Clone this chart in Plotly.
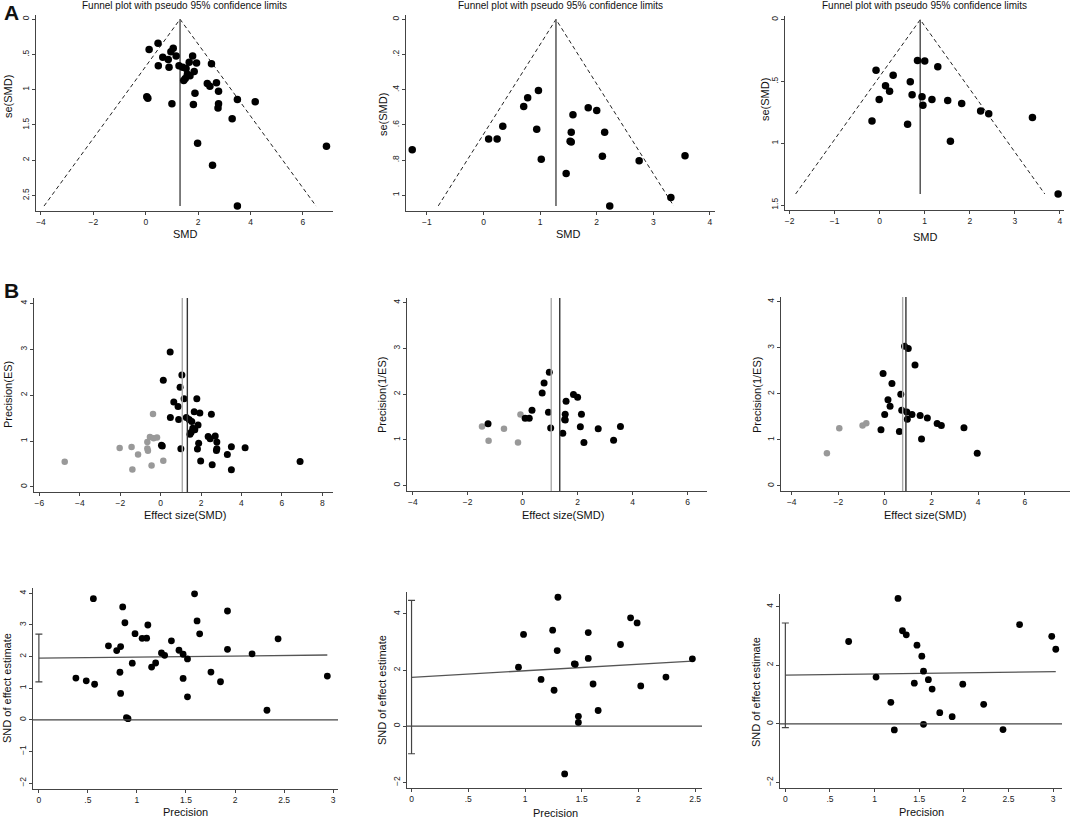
import numpy as np
import plotly.graph_objects as go

# ---- study estimates (row A) ----
smd_1 = [0.47, 0.13, 1.05, 0.96, 1.16, 0.65, 0.86, 1.79, 1.66, 1.94, 2.51, 0.48, 0.89,
         1.27, 1.41, 1.54, 1.85, 1.59, 1.69, 1.51, 1.45, 2.35, 2.45, 2.70, 2.78, 1.88,
         0.04, 0.08, 1.00, 1.82, 2.78, 2.76, 3.50, 4.18, 3.30, 1.98, 6.90, 2.55, 3.50]
se_1 = [0.34, 0.43, 0.41, 0.46, 0.52, 0.54, 0.57, 0.52, 0.61, 0.62, 0.63, 0.66, 0.68,
        0.66, 0.68, 0.70, 0.74, 0.78, 0.80, 0.84, 0.87, 0.91, 0.95, 0.90, 1.02, 1.05,
        1.10, 1.12, 1.20, 1.21, 1.20, 1.26, 1.14, 1.17, 1.41, 1.76, 1.80, 2.07, 2.65]

smd_2 = [-1.26, 0.09, 0.24, 0.34, 0.71, 0.78, 0.97, 0.94, 1.02, 1.46, 1.53, 1.55, 1.55,
         1.58, 1.85, 2.00, 2.14, 2.10, 2.75, 3.56, 3.31, 2.23]
se_2 = [0.741, 0.68, 0.68, 0.608, 0.495, 0.446, 0.404, 0.625, 0.796, 0.876, 0.693, 0.697,
        0.642, 0.543, 0.503, 0.518, 0.642, 0.779, 0.804, 0.775, 1.013, 1.061]

smd_3 = [-0.08, 0.30, 0.13, 0.22, -0.01, -0.17, 0.68, 0.72, 0.62, 0.84, 1.00, 1.29, 0.94,
         0.96, 1.16, 1.51, 1.82, 2.24, 2.42, 3.39, 1.57, 3.96]
se_3 = [0.41, 0.45, 0.535, 0.578, 0.646, 0.819, 0.503, 0.608, 0.846, 0.33, 0.335, 0.381,
        0.624, 0.692, 0.646, 0.654, 0.678, 0.738, 0.762, 0.792, 0.984, 1.41]

# pooled estimate at the funnel apex
funnel_centre = [1.31, 1.28, 0.90]

# ---- trim and fill (row B): imputed studies shown in grey ----
fill_smd_1 = [-0.38, -0.53, -0.35, -0.18, -0.66, -0.66, -0.63, -2.03, -1.44, -1.12,
              -0.45, 0.13, -1.40, -4.75]
fill_prec_1 = [1.59, 1.09, 1.06, 1.08, 0.98, 0.84, 0.79, 0.85, 0.87, 0.71, 0.47, 0.57,
               0.38, 0.55]
fill_smd_2 = [-1.48, -1.24, -0.68, -0.17, -0.08]
fill_prec_2 = [1.29, 0.98, 1.24, 0.94, 1.55]
fill_smd_3 = [-2.49, -1.96, -0.96, -0.80]
fill_prec_3 = [0.71, 1.25, 1.31, 1.36]

fill_observed = [1.32, 1.35, 0.90]
fill_adjusted = [1.07, 1.04, 0.76]

# ---- Egger / Galbraith (row C) ----
egger_intercept = [1.95, 1.74, 1.66]
egger_slope = [0.034, 0.235, 0.040]
egger_ci_low = [1.20, -0.98, -0.13]
egger_ci_high = [2.71, 4.48, 3.44]

# tick labels (Stata style, no leading zero)
se_ticks = [[0, 0.5, 1, 1.5, 2, 2.5], [0, 0.2, 0.4, 0.6, 0.8, 1], [0, 0.5, 1, 1.5]]
se_ticktext = [["0", ".5", "1", "1.5", "2", "2.5"], ["0", ".2", ".4", ".6", ".8", "1"],
               ["0", ".5", "1", "1.5"]]
smd_ticks = [[-4, -2, 0, 2, 4, 6], [-1, 0, 1, 2, 3, 4], [-2, -1, 0, 1, 2, 3, 4]]
es_ticks = [[-6, -4, -2, 0, 2, 4, 6, 8], [-4, -2, 0, 2, 4, 6], [-4, -2, 0, 2, 4, 6]]
prec_ticks = [[0, 0.5, 1, 1.5, 2, 2.5, 3], [0, 0.5, 1, 1.5, 2, 2.5], [0, 0.5, 1, 1.5, 2, 2.5, 3]]
prec_ticktext = [["0", ".5", "1", "1.5", "2", "2.5", "3"], ["0", ".5", "1", "1.5", "2", "2.5"],
                 ["0", ".5", "1", "1.5", "2", "2.5", "3"]]
snd_ticks = [[-2, -1, 0, 1, 2, 3, 4], [-2, 0, 2, 4], [-2, 0, 2, 4]]

studies = [(smd_1, se_1), (smd_2, se_2), (smd_3, se_3)]
fills = [(fill_smd_1, fill_prec_1), (fill_smd_2, fill_prec_2), (fill_smd_3, fill_prec_3)]

# ---- layout geometry (pixels in the 1072x819 page) ----
W, H = 1072, 819
px_x = [[36, 333], [406, 715], [785, 1064],
        [34, 333], [407, 707], [781, 1070],
        [33, 338], [407, 702], [780, 1062]]
px_y = [[15, 211], [15, 211], [16, 210],
        [298, 492], [298, 491], [297, 491],
        [588, 789], [592, 788], [594, 788]]
x_ranges = [[-4.19, 7.15], [-1.37, 4.09], [-2.10, 4.09],
            [-6.27, 8.53], [-4.21, 6.71], [-4.46, 7.94],
            [-0.06, 3.05], [-0.04, 2.56], [-0.06, 3.10]]
y_ranges = [[2.72, -0.06], [1.09, -0.025], [1.54, -0.03],
            [-0.11, 4.12], [-0.12, 4.10], [-0.11, 4.10],
            [-2.19, 4.17], [-2.20, 4.78], [-2.19, 4.43]]

FONT = "Liberation Sans, Arial, sans-serif"
AXIS_COL = "#444444"


def ax(n):
    return "" if n == 1 else str(n)


fig = go.Figure()

for c in range(3):
    smd = np.array(studies[c][0])
    se = np.array(studies[c][1])
    prec = 1 / se
    snd = smd / se
    centre = funnel_centre[c]
    se_max = se.max()

    # --- row A: funnel plot ---
    n = c + 1
    fig.add_trace(go.Scatter(
        x=[centre - 1.96 * se_max, centre, centre + 1.96 * se_max],
        y=[se_max, 0, se_max], mode="lines",
        line=dict(color="#222222", width=1, dash="4px,3px"),
        xaxis="x" + ax(n), yaxis="y" + ax(n), hoverinfo="skip"))
    fig.add_trace(go.Scatter(
        x=[centre, centre], y=[0, se_max], mode="lines",
        line=dict(color="#555555", width=1.5),
        xaxis="x" + ax(n), yaxis="y" + ax(n), hoverinfo="skip"))
    fig.add_trace(go.Scatter(
        x=smd, y=se, mode="markers",
        marker=dict(color="black", size=7.5),
        xaxis="x" + ax(n), yaxis="y" + ax(n)))

    # --- row B: trim and fill ---
    n = c + 4
    for xv, col in [(fill_adjusted[c], "#aaaaaa"), (fill_observed[c], "#333333")]:
        fig.add_shape(type="line", x0=xv, x1=xv, y0=0, y1=1,
                      xref="x" + ax(n), yref="y" + ax(n) + " domain",
                      line=dict(color=col, width=1.4))
    fig.add_trace(go.Scatter(
        x=fills[c][0], y=fills[c][1], mode="markers",
        marker=dict(color="#999999", size=6.5),
        xaxis="x" + ax(n), yaxis="y" + ax(n)))
    fig.add_trace(go.Scatter(
        x=smd, y=prec, mode="markers",
        marker=dict(color="black", size=7),
        xaxis="x" + ax(n), yaxis="y" + ax(n)))

    # --- row C: Galbraith / Egger ---
    n = c + 7
    fig.add_shape(type="line", x0=0, x1=1, y0=0, y1=0,
                  xref="x" + ax(n) + " domain", yref="y" + ax(n),
                  line=dict(color="#444444", width=1.3))
    reg_x = np.array([0, prec.max()])
    fig.add_trace(go.Scatter(
        x=reg_x, y=egger_intercept[c] + egger_slope[c] * reg_x, mode="lines",
        line=dict(color="#555555", width=1.3),
        xaxis="x" + ax(n), yaxis="y" + ax(n), hoverinfo="skip"))
    fig.add_trace(go.Scatter(
        x=[0], y=[egger_intercept[c]], mode="markers",
        marker=dict(size=1, color="rgba(0,0,0,0)"),
        error_y=dict(type="data", symmetric=False,
                     array=[egger_ci_high[c] - egger_intercept[c]],
                     arrayminus=[egger_intercept[c] - egger_ci_low[c]],
                     color="#444444", thickness=1.2, width=3.5),
        xaxis="x" + ax(n), yaxis="y" + ax(n), hoverinfo="skip"))
    fig.add_trace(go.Scatter(
        x=prec, y=snd, mode="markers",
        marker=dict(color="black", size=6.8),
        xaxis="x" + ax(n), yaxis="y" + ax(n)))

# ---- axes ----
layout_axes = {}
for i in range(9):
    n = i + 1
    row, col = divmod(i, 3)
    common = dict(showline=True, linecolor=AXIS_COL, linewidth=1, ticks="outside",
                  ticklen=3, tickcolor=AXIS_COL, showgrid=False, zeroline=False,
                  tickfont=dict(family=FONT, size=8.5, color="#222222"))
    xa = dict(common, domain=[px_x[i][0] / W, px_x[i][1] / W], range=x_ranges[i],
              anchor="y" + ax(n))
    ya = dict(common, domain=[1 - px_y[i][1] / H, 1 - px_y[i][0] / H], range=y_ranges[i],
              anchor="x" + ax(n), tickangle=-90)
    if row == 0:
        xa["tickvals"] = smd_ticks[col]
        ya["tickvals"] = se_ticks[col]
        ya["ticktext"] = se_ticktext[col]
    elif row == 1:
        xa["tickvals"] = es_ticks[col]
        ya["tickvals"] = [0, 1, 2, 3, 4]
    else:
        xa["tickvals"] = prec_ticks[col]
        xa["ticktext"] = prec_ticktext[col]
        ya["tickvals"] = snd_ticks[col]
    layout_axes["xaxis" + ax(n)] = xa
    layout_axes["yaxis" + ax(n)] = ya

# ---- text: titles, axis titles and panel letters ----
annotations = []


def label(text, x, y, size=11, angle=0, bold=False):
    annotations.append(dict(
        text="<b>" + text + "</b>" if bold else text, x=x / W, y=1 - y / H,
        xref="paper", yref="paper", showarrow=False, textangle=angle,
        font=dict(family=FONT, size=size, color="#111111"),
        xanchor="center", yanchor="middle"))


for i in range(3):
    label("Funnel plot with pseudo 95% confidence limits",
          (px_x[i][0] + px_x[i][1]) / 2, 6, size=10)

x_titles = [("SMD", 185, 234), ("SMD", 568, 234), ("SMD", 925, 237),
            ("Effect size(SMD)", 185, 515), ("Effect size(SMD)", 563, 515),
            ("Effect size(SMD)", 925, 515),
            ("Precision", 185, 812), ("Precision", 555, 813), ("Precision", 921, 812)]
y_titles = [("se(SMD)", 8, 97), ("se(SMD)", 383, 115), ("se(SMD)", 765, 100),
            ("Precision(ES)", 8, 395), ("Precision(1/ES)", 382, 395),
            ("Precision(1/ES)", 757, 395),
            ("SND of effect estimate", 7, 688), ("SND of effect estimate", 382, 690),
            ("SND of effect estimate", 756, 692)]
for t, x, y in x_titles:
    label(t, x, y, size=11)
for t, x, y in y_titles:
    label(t, x, y, size=11, angle=-90)

label("A", 11, 13, size=21, bold=True)
label("B", 11, 290, size=21, bold=True)

fig.update_layout(
    width=W, height=H,
    margin=dict(l=0, r=0, t=0, b=0),
    paper_bgcolor="white", plot_bgcolor="white",
    showlegend=False,
    annotations=annotations,
    font=dict(family=FONT),
    **layout_axes)

# page body margin removed so the figure sits flush in the window
fig.write_html("out.html", config={"displayModeBar": False},
               post_script="document.body.style.margin='0px';")
